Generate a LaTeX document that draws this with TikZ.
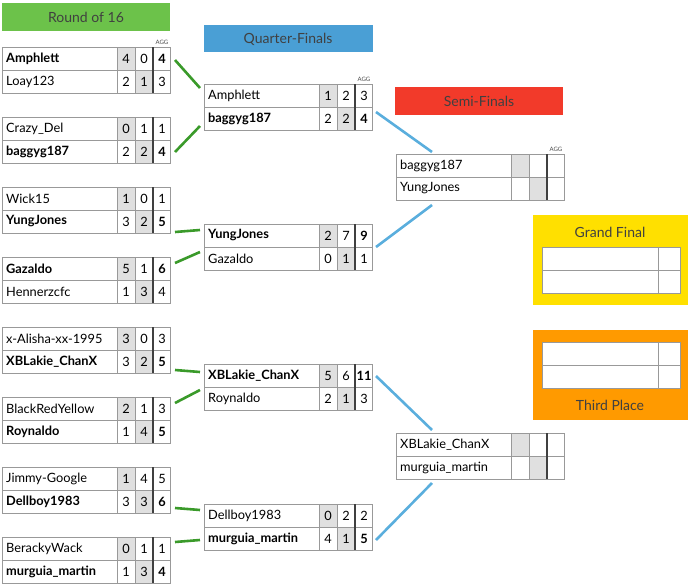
\documentclass[tikz,border=0pt]{standalone}
\usepackage{fontspec}
\setmainfont{Lato}
\usetikzlibrary{positioning, calc}

\definecolor{roundgreen}{HTML}{6CC24A}
\definecolor{qfblue}{HTML}{4A9FD5}
\definecolor{sfred}{HTML}{F23A2A}
\definecolor{finalyellow}{HTML}{FFE000}
\definecolor{thirdorange}{HTML}{FF9A00}
\definecolor{linkgreen}{HTML}{3A9A2A}
\definecolor{linkblue}{HTML}{5AAEDD}

\tikzset{
  grid/.style={draw=black!40, line width=0.7pt},
  cellgray/.style={fill=black!12},
  aggbar/.style={draw=black!75, line width=2.2pt},
  rowtext/.style={font=\fontsize{12.8}{15}\selectfont, inner sep=0pt},
  heading/.style={font=\fontsize{14}{16}\selectfont, text=black!75},
  greenlink/.style={draw=linkgreen, line width=2.6pt},
  bluelink/.style={draw=linkblue, line width=2.6pt}
}

% one row of a tie: x, y, name, leg 1, leg 2, aggregate, shaded leg
\newcommand{\legrow}[7]{%
  \fill[cellgray] ({#1+115+(#7-1)*18},#2) rectangle ++(18,23);
  \draw[grid] (#1,#2) rectangle ++(168,23);
  \draw[grid] ({#1+115},#2) -- ++(0,23) ({#1+133},#2) -- ++(0,23);
  \draw[aggbar] ({#1+151},#2) -- ++(0,23);
  \node[rowtext, anchor=west] at ({#1+4},{#2+11.5}) {#3};
  \node[rowtext] at ({#1+124},{#2+11.5}) {#4};
  \node[rowtext] at ({#1+142},{#2+11.5}) {#5};
  \node[rowtext] at ({#1+160},{#2+11.5}) {#6};
}
\newcommand{\aggtag}[2]{\node[font=\fontsize{6}{7}\selectfont, text=black!70] at ({#1+160},{#2-5}) {AGG};}

\begin{document}
\begin{tikzpicture}[x=1pt, y=-1pt]
\useasboundingbox (0,0) rectangle (688,587);

% headings
\fill[roundgreen] (2,3) rectangle (170,31);
\node[heading] (r16title) at (86,17) {Round of 16};
\fill[qfblue] (204,25) rectangle (373,52);
\node[heading] (qftitle) at (288,39) {Quarter-Finals};
\fill[sfred] (395,87) rectangle (563,115);
\node[heading] (sftitle) at (479,101) {Semi-Finals};

% round of 16
\aggtag{2}{47}
\legrow{2}{47}{\textbf{Amphlett}}{4}{0}{\textbf{4}}{1}
\legrow{2}{70}{Loay123}{2}{1}{3}{2}
\legrow{2}{117}{Crazy\_Del}{0}{1}{1}{1}
\legrow{2}{140}{\textbf{baggyg187}}{2}{2}{\textbf{4}}{2}
\legrow{2}{187}{Wick15}{1}{0}{1}{1}
\legrow{2}{210}{\textbf{YungJones}}{3}{2}{\textbf{5}}{2}
\legrow{2}{257}{\textbf{Gazaldo}}{5}{1}{\textbf{6}}{1}
\legrow{2}{280}{Hennerzcfc}{1}{3}{4}{2}
\legrow{2}{327}{x-Alisha-xx-1995}{3}{0}{3}{1}
\legrow{2}{350}{\textbf{XBLakie\_ChanX}}{3}{2}{\textbf{5}}{2}
\legrow{2}{397}{BlackRedYellow}{2}{1}{3}{1}
\legrow{2}{420}{\textbf{Roynaldo}}{1}{4}{\textbf{5}}{2}
\legrow{2}{467}{Jimmy-Google}{1}{4}{5}{1}
\legrow{2}{490}{\textbf{Dellboy1983}}{3}{3}{\textbf{6}}{2}
\legrow{2}{537}{BerackyWack}{0}{1}{1}{1}
\legrow{2}{560}{\textbf{murguia\_martin}}{1}{3}{\textbf{4}}{2}

% quarter-finals
\aggtag{204}{84}
\legrow{204}{84}{Amphlett}{1}{2}{3}{1}
\legrow{204}{107}{\textbf{baggyg187}}{2}{2}{\textbf{4}}{2}
\legrow{204}{224}{\textbf{YungJones}}{2}{7}{\textbf{9}}{1}
\legrow{204}{247}{Gazaldo}{0}{1}{1}{2}
\legrow{204}{364}{\textbf{XBLakie\_ChanX}}{5}{6}{\textbf{11}}{1}
\legrow{204}{387}{Roynaldo}{2}{1}{3}{2}
\legrow{204}{504}{Dellboy1983}{0}{2}{2}{1}
\legrow{204}{527}{\textbf{murguia\_martin}}{4}{1}{\textbf{5}}{2}

% semi-finals
\aggtag{396}{154}
\legrow{396}{154}{baggyg187}{}{}{}{1}
\legrow{396}{177}{YungJones}{}{}{}{2}
\legrow{396}{433}{XBLakie\_ChanX}{}{}{}{1}
\legrow{396}{456}{murguia\_martin}{}{}{}{2}

% grand final and third place
\fill[finalyellow] (533,215) rectangle (688,305);
\node[heading] (gftitle) at (610,232) {Grand Final};
\draw[grid, fill=white] (542,247) rectangle (680,293);
\draw[grid] (542,270) -- (680,270) (658,247) -- (658,293);
\fill[thirdorange] (533,330) rectangle (688,420);
\draw[grid, fill=white] (542,342) rectangle (680,388);
\draw[grid] (542,365) -- (680,365) (658,342) -- (658,388);
\node[heading] (tptitle) at (610,405) {Third Place};

% connectors
\coordinate (a1) at (175,60);   \coordinate (a2) at (175,152);
\coordinate (a3) at (175,232);  \coordinate (a4) at (175,263);
\coordinate (a5) at (175,370);  \coordinate (a6) at (175,403);
\coordinate (a7) at (175,508);  \coordinate (a8) at (175,542);
\coordinate (q1) at (200,88);   \coordinate (q2) at (200,126);
\coordinate (q3) at (200,230);  \coordinate (q4) at (200,252);
\coordinate (q5) at (200,372);  \coordinate (q6) at (200,390);
\coordinate (q7) at (200,510);  \coordinate (q8) at (200,540);
\foreach \i in {1,...,8} \draw[greenlink] (a\i) -- (q\i);
\coordinate (b1) at (376,112);  \coordinate (b2) at (376,247);
\coordinate (b3) at (376,376);  \coordinate (b4) at (376,540);
\coordinate (s1) at (432,152);  \coordinate (s2) at (432,205);
\coordinate (s3) at (432,430);  \coordinate (s4) at (432,483);
\foreach \i in {1,...,4} \draw[bluelink] (b\i) -- (s\i);
\end{tikzpicture}
\end{document}
